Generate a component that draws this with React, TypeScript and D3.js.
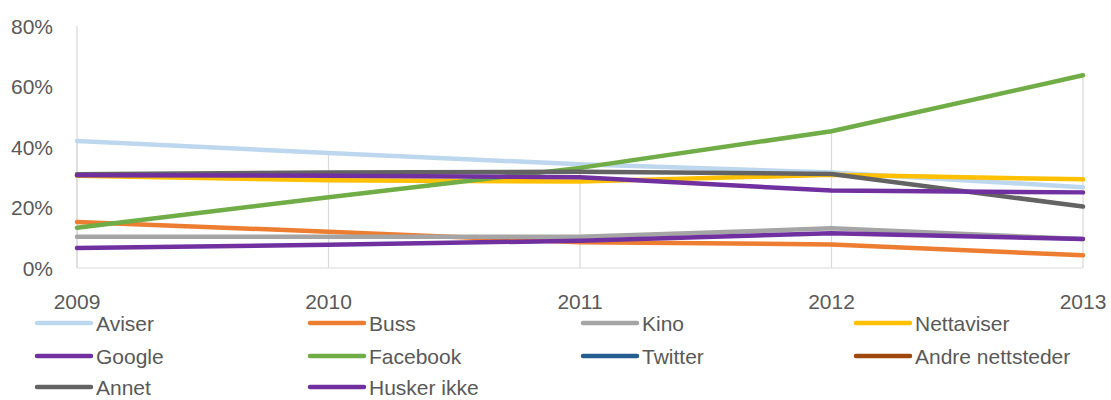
import * as d3 from 'd3';

const years = ['2009', '2010', '2011', '2012', '2013'];
const aviser = [42, 38, 34.3, 31.6, 26.7];
const buss = [15.2, 12, 8.5, 7.8, 4.2];
const kino = [10.3, 10.3, 10.3, 13.1, 9.6];
const nettaviser = [30.5, 29, 28.6, 30.8, 29.3];
const google = [6.6, 7.7, 9, 11.5, 9.6];
const facebook = [13.3, 23.4, 33.1, 45.2, 63.7];
const twitter: number[] = [];
const andreNettsteder: number[] = [];
const annet = [31, 31.6, 31.8, 31.1, 20.3];
const huskerIkke = [30.7, 30.5, 30, 25.6, 25];
const yTicks = [0, 20, 40, 60, 80];

const seriesNames = ['Aviser', 'Buss', 'Kino', 'Nettaviser', 'Google', 'Facebook', 'Twitter', 'Andre nettsteder', 'Annet', 'Husker ikke'];
const seriesValues = [aviser, buss, kino, nettaviser, google, facebook, twitter, andreNettsteder, annet, huskerIkke];
const seriesColors = ['#BDD7EE', '#ED7D31', '#A5A5A5', '#FFC000', '#7030A0', '#70AD47', '#255E91', '#9E480E', '#636363', '#7030A0'];

const width = 1111;
const height = 400;
const font = '"Liberation Sans", Arial, sans-serif';
const textColor = '#595959';
const gridColor = '#D9D9D9';

// legend grid, 4 columns
const legendX = [37, 310, 583, 856];
const legendY = [323, 356, 387];

const App = () => {
  const x = d3.scalePoint<string>().domain(years).range([77, 1083]);
  const y = d3.scaleLinear().domain([0, 80]).range([268, 26]);

  const line = d3.line<number>()
    .x((_, i) => x(years[i]) ?? 0)
    .y(d => y(d));

  // drop lines go from the highest value down to the axis
  const maxAt = years.map((_, i) => d3.max(seriesValues, s => s[i]) ?? 0);

  return (
    <svg width={width} height={height} style={{ position: 'absolute', left: 0, top: 0, background: '#fff' }}>
      {years.map((yr, i) => (
        <line key={yr} x1={x(yr)} x2={x(yr)} y1={y(maxAt[i])} y2={y(0)} stroke={gridColor} strokeWidth={1.2} />
      ))}
      <line x1={x(years[0])} x2={x(years[0])} y1={y(80)} y2={y(0)} stroke={gridColor} strokeWidth={1.2} />
      <line x1={x(years[0])} x2={x(years[years.length - 1])} y1={y(0)} y2={y(0)} stroke={gridColor} strokeWidth={1.2} />

      {yTicks.map(t => (
        <text key={t} x={53} y={y(t)} dy="0.36em" textAnchor="end" fontFamily={font} fontSize={21} fill={textColor}>
          {t}%
        </text>
      ))}
      {years.map(yr => (
        <text key={yr} x={x(yr)} y={309} textAnchor="middle" fontFamily={font} fontSize={21} fill={textColor}>
          {yr}
        </text>
      ))}

      {seriesValues.map((vals, k) => vals.length > 0 && (
        <path key={seriesNames[k]} d={line(vals) ?? ''} fill="none" stroke={seriesColors[k]} strokeWidth={4.5} strokeLinecap="round" strokeLinejoin="round" />
      ))}

      {seriesNames.map((name, k) => {
        const lx = legendX[k % 4];
        const ly = legendY[Math.floor(k / 4)];
        return (
          <g key={name}>
            <line x1={lx} x2={lx + 54} y1={ly} y2={ly} stroke={seriesColors[k]} strokeWidth={4.5} strokeLinecap="round" />
            <text x={lx + 59} y={ly} dy="0.36em" fontFamily={font} fontSize={21} fill={textColor}>{name}</text>
          </g>
        );
      })}
    </svg>
  );
};

export default App;
